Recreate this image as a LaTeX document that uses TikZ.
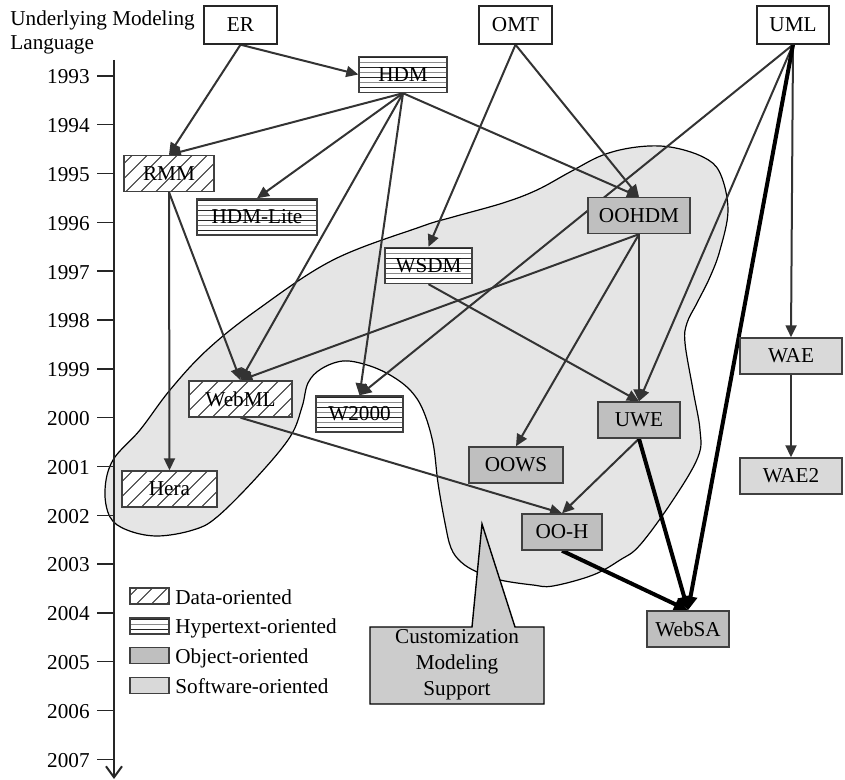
\documentclass[tikz,border=0pt]{standalone}
\usepackage{fontspec}
\setmainfont{Liberation Serif}
\usetikzlibrary{arrows.meta}
\pgfdeclarelayer{blobs}
\pgfdeclarelayer{edges}
\pgfsetlayers{blobs,edges,main}
\tikzset{
  figtext/.style={font=\fontsize{10.6pt}{13pt}\selectfont},
  plain/.style={figtext, inner sep=0pt},
  box/.style={draw=black!75, line width=0.7pt, minimum height=18pt, inner sep=0pt, figtext},
  langbox/.style={box, fill=white, draw=black!85, minimum height=19pt},
  dataor/.style={box, fill=white, path picture={
      \foreach \k in {-12,...,12}{
        \draw[line width=0.45pt, black!85] ([xshift=\k*7.5pt, yshift=-1pt]path picture bounding box.south) -- ++(24pt,24pt);}}},
  hyperor/.style={box, fill=white, path picture={
      \foreach \k in {0,...,3}{
        \draw[line width=0.45pt, black!85] ([yshift=2.5pt+\k*5pt]path picture bounding box.south west) -- ([yshift=2.5pt+\k*5pt]path picture bounding box.south east);
        \draw[line width=0.45pt, black!45] ([yshift=5pt+\k*5pt]path picture bounding box.south west) -- ([yshift=5pt+\k*5pt]path picture bounding box.south east);}}},
  objor/.style={box, fill=black!25},
  softor/.style={box, fill=black!15},
  swatch/.style={minimum width=19.5pt, minimum height=8pt},
  link/.style={draw=black!80, line width=1pt, -{Triangle[length=6pt,width=5.5pt]}},
  heavylink/.style={draw=black, line width=2pt, -{Triangle[length=7pt,width=6.5pt]}},
}
\begin{document}
\begin{tikzpicture}[x=0.5pt, y=-0.5pt]
\useasboundingbox (0,0) rectangle (845,780);

% shaded region and callout
\begin{pgfonlayer}{blobs}
\draw[fill=black!10, line width=0.6pt] plot[smooth cycle, tension=0.6] coordinates {
  (105,490) (110,517) (127,530) (157,536) (193,530) (217,517) (257,477) (290,437)
  (302,407) (308,383) (321,369) (343,361) (367,365) (390,375) (410,390) (423,410)
  (433,443) (438,483) (445,523) (451,548) (461,562) (477,572) (500,580) (533,585)
  (553,586) (593,575) (620,560) (640,545) (673,500) (698,457) (700,430) (693,390)
  (685,343) (687,323) (697,303) (710,277) (720,250) (728,210) (720,173) (703,157)
  (670,147) (637,147) (603,155) (570,172) (537,190) (503,203) (453,217) (420,227)
  (333,260) (257,310) (207,350) (170,390) (140,430) (113,460)};
\draw[fill=black!20, line width=0.7pt] (370,627) -- (472,627) -- (482,524) -- (515,627)
  -- (544,627) -- (544,704) -- (370,704) -- cycle;
\end{pgfonlayer}
\node[figtext, align=center] (callout) at (457,665) {Customization\\Modeling\\Support};

% time axis
\node[plain, anchor=base west] (title1) at (10,26) {Underlying Modeling};
\node[plain, anchor=base west] (title2) at (10,50) {Language};
\draw[line width=1pt, black!85, -{Straight Barb[length=5.5pt,width=8pt]}] (114,60) -- (114,779);
\foreach \i in {0,...,14}{
  \pgfmathsetmacro{\yy}{76+48.8*\i}
  \pgfmathtruncatemacro{\yr}{1993+\i}
  \draw[line width=0.7pt, black!85] (97,\yy) -- (114,\yy);
  \node[plain, anchor=east] (year\i) at (90,\yy+1) {\yr};
}

% modeling languages
\node[langbox, minimum width=36.5pt] (ER) at (240.5,25) {ER};
\node[langbox, minimum width=36.5pt] (OMT) at (515.5,25) {OMT};
\node[langbox, minimum width=36pt] (UML) at (793,25) {UML};

% methods
\node[hyperor, minimum width=44pt] (HDM) at (403,74.5) {HDM};
\node[dataor, minimum width=45pt] (RMM) at (169,173.5) {RMM};
\node[hyperor, minimum width=60pt] (HDMLite) at (257,217) {HDM-Lite};
\node[hyperor, minimum width=43.5pt] (WSDM) at (428.5,265.5) {WSDM};
\node[objor, minimum width=51pt] (OOHDM) at (639,215.5) {OOHDM};
\node[dataor, minimum width=51.5pt] (WebML) at (240.5,399) {WebML};
\node[hyperor, minimum width=43.5pt] (W2000) at (359.5,414) {W2000};
\node[dataor, minimum width=47.5pt] (Hera) at (169.5,489) {Hera};
\node[softor, minimum width=51pt] (WAE) at (791,356) {WAE};
\node[softor, minimum width=51pt] (WAE2) at (791,476) {WAE2};
\node[objor, minimum width=41pt] (UWE) at (639,420) {UWE};
\node[objor, minimum width=47pt] (OOWS) at (516,465) {OOWS};
\node[objor, minimum width=40pt] (OOH) at (562,532) {OO-H};
\node[objor, minimum width=41pt] (WebSA) at (688,629) {WebSA};

% influences
\begin{pgfonlayer}{edges}
\draw[link] (ER.south) -- (HDM.west);
\draw[link] (ER.south) -- (RMM.north);
\draw[link] (HDM.south) -- (RMM.north);
\draw[link] (HDM.south) -- (HDMLite.north);
\draw[link] (HDM.south) -- (WebML.north);
\draw[link] (HDM.south) -- (W2000.north);
\draw[link] (HDM.south) -- (OOHDM.north);
\draw[link] (OMT.south) -- (WSDM.north);
\draw[link] (OMT.south) -- (OOHDM.north);
\draw[link] (UML.south) -- (W2000.north);
\draw[link] (UML.south) -- (UWE.north);
\draw[link] (UML.south) -- (WAE.north);
\draw[link] (WAE.south) -- (WAE2.north);
\draw[link] (RMM.south) -- (Hera.north);
\draw[link] (RMM.south) -- (WebML.north);
\draw[link] (OOHDM.south) -- (WebML.north);
\draw[link] (OOHDM.south) -- (OOWS.north);
\draw[link] (OOHDM.south) -- (UWE.north);
\draw[link] (WSDM.south) -- (UWE.north);
\draw[link] (WebML.south) -- (OOH.north);
\draw[link] (UWE.south) -- (OOH.north);
\draw[heavylink] (UWE.south) -- (WebSA.north);
\draw[heavylink] (OOH.south) -- (WebSA.north);
\draw[heavylink] (UML.south) -- (WebSA.north);
\end{pgfonlayer}

% legend
\node[dataor, swatch] (legdata) at (149.5,596) {};
\node[hyperor, swatch] (leghyper) at (149.5,626) {};
\node[objor, swatch] (legobj) at (149.5,655.5) {};
\node[softor, swatch] (legsoft) at (149.5,685.5) {};
\node[plain, anchor=base west] (legdatatext) at (175,604) {Data-oriented};
\node[plain, anchor=base west] (leghypertext) at (175,633) {Hypertext-oriented};
\node[plain, anchor=base west] (legobjtext) at (175,663) {Object-oriented};
\node[plain, anchor=base west] (legsofttext) at (175,693) {Software-oriented};
\end{tikzpicture}
\end{document}
